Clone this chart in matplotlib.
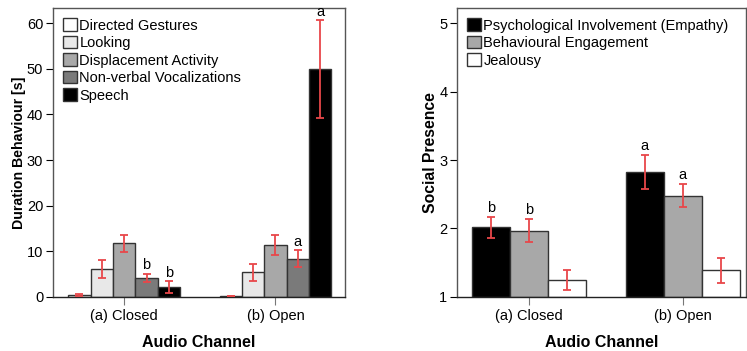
import numpy as np
import matplotlib.pyplot as plt

plt.rcParams['font.family'] = ['Liberation Sans', 'DejaVu Sans']

channels = ["(a) Closed", "(b) Open"]

# duration of behaviours [s], mean with error bar limits
behaviours = ["Directed Gestures", "Looking", "Displacement Activity",
              "Non-verbal Vocalizations", "Speech"]
beh_colors = ["#ffffff", "#e8e8e8", "#a8a8a8", "#7a7a7a", "#000000"]
beh_mean = [[0.4, 0.2], [6.2, 5.4], [11.8, 11.4], [4.1, 8.3], [2.2, 50.0]]
beh_lo = [[0.25, 0.1], [4.2, 3.6], [9.9, 9.2], [3.2, 6.5], [0.9, 39.3]]
beh_hi = [[0.55, 0.3], [8.2, 7.2], [13.6, 13.5], [5.1, 10.2], [3.4, 60.6]]
beh_letters = [["", ""], ["", ""], ["", ""], ["b", "a"], ["b", "a"]]

# social presence ratings
presence = ["Psychological Involvement (Empathy)", "Behavioural Engagement", "Jealousy"]
pres_colors = ["#000000", "#a8a8a8", "#ffffff"]
pres_mean = [[2.02, 2.83], [1.97, 2.48], [1.25, 1.39]]
pres_lo = [[1.86, 2.58], [1.80, 2.32], [1.10, 1.20]]
pres_hi = [[2.17, 3.07], [2.14, 2.65], [1.40, 1.57]]
pres_letters = [["b", "a"], ["b", "a"], ["", ""]]

err_color = "#e8474a"
edge = "#333333"

fig = plt.figure(figsize=(7.47, 3.51), dpi=100)
ax1 = fig.add_axes([0.071, 0.154, 0.391, 0.823])
ax2 = fig.add_axes([0.612, 0.154, 0.386, 0.823])


def grouped(ax, names, colors, mean, lo, hi, letters, width, bottom, pad):
    x = np.arange(len(channels))
    n = len(names)
    for i in range(n):
        pos = x + (i - (n - 1) / 2) * width
        m = np.array(mean[i])
        ax.bar(pos, m - bottom, width, bottom=bottom, color=colors[i],
               edgecolor=edge, linewidth=1.0, label=names[i], zorder=2)
        yerr = [m - np.array(lo[i]), np.array(hi[i]) - m]
        ax.errorbar(pos, m, yerr=yerr, fmt="none", ecolor=err_color,
                    elinewidth=1.3, capsize=3, capthick=1.3, zorder=3)
        for j in range(len(channels)):
            if letters[i][j]:
                ax.text(pos[j], hi[i][j] + pad, letters[i][j], ha="center",
                        va="bottom", fontsize=10.5)
    ax.set_xticks(x)
    ax.set_xticklabels(channels, fontsize=10.5)
    ax.set_xlabel("Audio Channel", fontsize=11.5, fontweight="bold", labelpad=8)
    for s in ax.spines.values():
        s.set_color("#555555")
        s.set_linewidth(1.0)
    ax.spines["bottom"].set_color("#222222")
    ax.tick_params(axis="x", length=6, color="#777777", pad=3)
    ax.tick_params(axis="y", length=5, labelsize=10.5, pad=2)
    ax.legend(loc="upper left", frameon=False, fontsize=10.5,
              handlelength=0.95, handleheight=0.95, handletextpad=0.15,
              labelspacing=0.22, borderaxespad=0.3,
              bbox_to_anchor=(0.0, 1.0))


grouped(ax1, behaviours, beh_colors, beh_mean, beh_lo, beh_hi, beh_letters,
        0.148, 0, 0.3)
ax1.set_xlim(-0.47, 1.46)
ax1.set_ylim(0, 63.3)
ax1.set_yticks(range(0, 61, 10))
ax1.set_ylabel("Duration Behaviour [s]", fontsize=10.2, fontweight="bold", labelpad=1)

grouped(ax2, presence, pres_colors, pres_mean, pres_lo, pres_hi, pres_letters,
        0.247, 1, 0.03)
ax2.set_xlim(-0.465, 1.406)
ax2.set_ylim(1, 5.22)
ax2.set_yticks(range(1, 6))
ax2.set_ylabel("Social Presence", fontsize=11.3, fontweight="bold", labelpad=1)

fig.savefig("out.png", dpi=100)
